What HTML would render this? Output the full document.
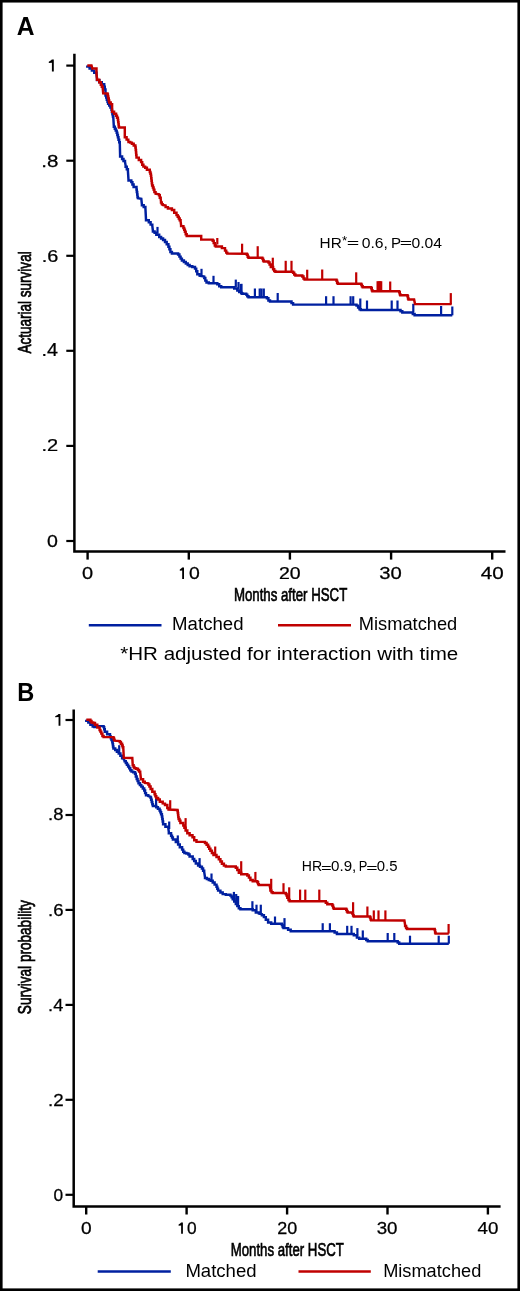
<!DOCTYPE html>
<html><head><meta charset="utf-8"><style>
html,body{margin:0;padding:0;background:#fff;}
svg{display:block;will-change:transform;}
text{font-family:'Liberation Sans', sans-serif;fill:#000;}
</style></head><body>
<svg width="520" height="1291" viewBox="0 0 520 1291">
<rect x="1.3" y="1.25" width="517.4" height="1288.45" fill="#fff" stroke="#000" stroke-width="2.6"/>

<text transform="translate(16.68,34.60) scale(0.9822,1)" font-size="25.07" font-weight="bold">A</text>
<g stroke="#000" stroke-width="2.5" fill="none" stroke-linecap="butt"><polyline points="74.4,53.8 74.4,551.6 505.5,551.6" stroke-linejoin="miter"/><line x1="66.3" y1="65.6" x2="74.4" y2="65.6" stroke-width="2.2"/><line x1="66.3" y1="160.7" x2="74.4" y2="160.7" stroke-width="2.2"/><line x1="66.3" y1="255.8" x2="74.4" y2="255.8" stroke-width="2.2"/><line x1="66.3" y1="350.8" x2="74.4" y2="350.8" stroke-width="2.2"/><line x1="66.3" y1="445.9" x2="74.4" y2="445.9" stroke-width="2.2"/><line x1="66.3" y1="541.0" x2="74.4" y2="541.0" stroke-width="2.2"/><line x1="87.6" y1="551.6" x2="87.6" y2="559.6" stroke-width="2.4"/><line x1="188.8" y1="551.6" x2="188.8" y2="559.6" stroke-width="2.4"/><line x1="289.9" y1="551.6" x2="289.9" y2="559.6" stroke-width="2.4"/><line x1="391.1" y1="551.6" x2="391.1" y2="559.6" stroke-width="2.4"/><line x1="492.2" y1="551.6" x2="492.2" y2="559.6" stroke-width="2.4"/></g>
<text transform="translate(41.20,166.78) scale(1.2145,1)" font-size="16.93" stroke="#000" stroke-width="0.25">.8</text>
<text transform="translate(41.67,261.57) scale(1.2240,1)" font-size="16.21" stroke="#000" stroke-width="0.25">.6</text>
<text transform="translate(41.46,356.38) scale(1.1305,1)" font-size="17.46" stroke="#000" stroke-width="0.25">.4</text>
<text transform="translate(41.44,451.38) scale(1.1625,1)" font-size="17.21" stroke="#000" stroke-width="0.25">.2</text>
<text transform="translate(47.06,546.58) scale(1.1577,1)" font-size="16.93" stroke="#000" stroke-width="0.25">0</text>
<path d="M53.80,59.40 L53.80,71.60 L51.91,71.60 L51.91,62.69 L48.80,62.94 L48.80,61.72 L51.18,60.25 L51.79,59.40Z" fill="#000"/>
<path d="M184.00,567.40 L184.00,579.10 L182.19,579.10 L182.19,570.56 L179.80,570.79 L179.80,569.62 L181.48,568.22 L182.07,567.40Z" fill="#000"/>
<text transform="translate(189.07,578.98) scale(1.1745,1)" font-size="16.50" stroke="#000" stroke-width="0.25">0</text>
<text transform="translate(82.05,578.98) scale(1.2115,1)" font-size="16.50" stroke="#000" stroke-width="0.25">0</text>
<text transform="translate(278.97,578.98) scale(1.1826,1)" font-size="16.50" stroke="#000" stroke-width="0.25">20</text>
<text transform="translate(379.34,578.98) scale(1.2293,1)" font-size="16.50" stroke="#000" stroke-width="0.25">30</text>
<text transform="translate(480.84,578.98) scale(1.2519,1)" font-size="16.50" stroke="#000" stroke-width="0.25">40</text>
<text transform="translate(233.88,601.45) scale(0.6984,1)" font-size="18.99" stroke="#000" stroke-width="0.7">Months after HSCT</text>
<text transform="translate(31.05,353.61) rotate(-90) scale(0.7496,1)" font-size="18.07" stroke="#000" stroke-width="0.7">Actuarial survival</text>
<text transform="translate(319.57,247.50) scale(1.0599,1)" font-size="14.49">HR</text>
<text transform="translate(342.03,245.37) scale(1.0682,1)" font-size="12.57">*</text>
<text transform="translate(346.63,247.43) scale(1.7155,1)" font-size="12.50">=</text>
<text transform="translate(361.67,247.60) scale(1.1224,1)" font-size="14.00">0.6,</text>
<text transform="translate(391.09,247.60) scale(1.0660,1)" font-size="14.20">P</text>
<text transform="translate(399.84,247.22) scale(1.6990,1)" font-size="12.50">=</text>
<text transform="translate(411.47,247.60) scale(1.1200,1)" font-size="14.00">0.04</text>
<g fill="none" stroke-width="2.45" stroke-linejoin="miter">
<polyline points="87.3,65.4 87.3,66.5 89.6,66.5 89.6,68.5 91.9,68.5 91.9,70.6 94.2,70.6 94.2,72.7 96.5,72.7 96.5,73.8 97.0,79.0 97.0,80.1 99.4,80.1 99.4,82.2 101.8,82.2 101.8,84.3 104.2,84.3 104.2,85.4 104.2,86.8 104.8,86.8 104.8,89.4 105.5,89.4 105.5,90.8 105.5,94.6 105.5,95.6 106.2,95.6 106.2,97.6 106.8,97.6 106.8,99.7 107.5,99.7 107.5,101.7 108.1,101.7 108.1,102.7 108.1,103.7 109.2,103.7 109.2,105.6 110.4,105.6 110.4,107.5 111.5,107.5 111.5,108.5 111.5,109.7 112.0,109.7 112.0,112.0 112.4,112.0 112.4,114.2 112.9,114.2 112.9,116.5 113.3,116.5 113.3,117.7 113.8,125.8 113.8,126.8 114.8,126.8 114.8,128.7 115.7,128.7 115.7,130.6 116.7,130.6 116.7,131.5 116.7,132.7 117.3,132.7 117.3,135.0 117.9,135.0 117.9,137.3 118.5,137.3 118.5,138.4 118.5,139.7 119.2,139.7 119.2,142.2 119.8,142.2 119.8,143.5 120.1,155.0 120.1,156.4 122.1,156.4 122.1,157.9 122.1,158.9 123.5,158.9 123.5,160.9 125.0,160.9 125.0,161.9 125.6,165.4 125.6,166.7 126.8,166.7 126.8,169.3 127.9,169.3 127.9,170.6 128.5,179.8 128.5,180.4 131.3,180.4 131.3,180.9 131.3,182.1 132.4,182.1 132.4,184.4 133.6,184.4 133.6,185.6 133.6,187.0 136.5,187.0 136.5,188.4 136.5,189.6 136.8,189.6 136.8,192.0 137.2,192.0 137.2,194.5 137.5,194.5 137.5,196.9 137.9,196.9 137.9,198.1 141.3,198.7 141.9,204.4 141.9,205.3 143.7,205.3 143.7,207.0 145.4,207.0 145.4,207.9 146.0,219.4 146.0,220.2 148.8,220.2 148.8,221.1 148.8,222.3 150.6,222.3 150.6,224.6 152.3,224.6 152.3,225.8 152.9,230.9 152.9,231.5 154.6,231.5 154.6,232.7 156.3,232.7 156.3,233.3 156.3,234.7 159.2,234.7 159.2,236.1 159.2,236.9 161.1,236.9 161.1,238.4 163.1,238.4 163.1,239.9 165.0,239.9 165.0,240.7 165.0,241.9 166.7,241.9 166.7,244.2 168.4,244.2 168.4,245.4 168.4,246.7 169.4,246.7 169.4,249.2 170.4,249.2 170.4,250.4 170.4,251.9 171.9,251.9 171.9,253.5 178.1,253.5 178.1,254.5 179.4,254.5 179.4,256.6 180.6,256.6 180.6,258.6 181.9,258.6 181.9,259.6 181.9,260.4 183.9,260.4 183.9,261.9 185.8,261.9 185.8,262.7 185.8,263.5 187.7,263.5 187.7,265.0 189.6,265.0 189.6,265.8 189.6,266.2 192.3,266.2 192.3,266.9 195.0,266.9 195.0,267.3 195.0,268.6 196.2,268.6 196.2,271.3 197.3,271.3 197.3,272.7 197.3,274.2 199.6,274.2 199.6,275.8 204.2,276.5 204.2,277.9 205.3,277.9 205.3,280.6 206.5,280.6 206.5,281.9 206.5,282.5 208.8,282.5 208.8,283.2 217.3,283.2 217.3,284.2 219.2,284.2 219.2,286.3 221.2,286.3 221.2,287.3 234.2,287.3 234.2,288.5 237.3,288.5 237.3,289.6 237.3,290.4 239.2,290.4 239.2,291.9 241.2,291.9 241.2,292.7 241.2,293.2 242.3,293.2 242.3,293.8 246.2,293.8 246.2,294.6 247.3,294.6 247.3,296.3 248.5,296.3 248.5,297.2 266.9,297.2 266.9,298.3 268.4,298.3 268.4,300.4 270.0,300.4 270.0,301.5 291.5,301.5 291.5,303.1 293.1,303.1 293.1,304.6 356.5,304.6 356.5,305.6 358.1,305.6 358.1,306.6 358.1,307.5 359.5,307.5 359.5,309.2 360.8,309.2 360.8,310.0 400.5,310.0 400.5,311.2 402.3,311.2 402.3,312.5 412.8,312.5 412.8,313.9 414.6,313.9 414.6,315.3 452.3,315.3" stroke="#0020a0"/>
<g stroke="#0020a0" stroke-width="2.2"><line x1="157.5" y1="226.9" x2="157.5" y2="233.8"/><line x1="201.5" y1="268.8" x2="201.5" y2="275.8"/><line x1="213.5" y1="275.8" x2="213.5" y2="283.2"/><line x1="235.8" y1="279.6" x2="235.8" y2="287.3"/><line x1="238.5" y1="282" x2="238.5" y2="289.3"/><line x1="240.8" y1="284" x2="240.8" y2="292.3"/><line x1="241.5" y1="283.8" x2="241.5" y2="293"/><line x1="254.9" y1="288.5" x2="254.9" y2="297.2"/><line x1="259.7" y1="288.5" x2="259.7" y2="297.2"/><line x1="261.5" y1="288.5" x2="261.5" y2="297.2"/><line x1="263.8" y1="288.5" x2="263.8" y2="297.2"/><line x1="277.7" y1="293" x2="277.7" y2="301.5"/><line x1="326.1" y1="296.2" x2="326.1" y2="304.6"/><line x1="333.5" y1="296.2" x2="333.5" y2="304.6"/><line x1="350.6" y1="296.2" x2="350.6" y2="304.6"/><line x1="353.2" y1="296.2" x2="353.2" y2="304.6"/><line x1="360.3" y1="298.5" x2="360.3" y2="308"/><line x1="367" y1="300.5" x2="367" y2="310"/><line x1="391.7" y1="300.5" x2="391.7" y2="310"/><line x1="397.5" y1="300.5" x2="397.5" y2="310"/><line x1="413.3" y1="303.8" x2="413.3" y2="312.5"/><line x1="441.1" y1="306" x2="441.1" y2="315.3"/><line x1="452.3" y1="306.5" x2="452.3" y2="315.3"/></g>
<polyline points="87.3,65.4 91.5,65.4 92.3,68.5 96.5,68.5 96.5,73.8 97.0,78.5 97.0,79.7 99.2,79.7 99.2,80.8 99.2,82.3 100.8,82.3 100.8,83.8 100.8,84.8 101.8,84.8 101.8,86.7 102.7,86.7 102.7,87.7 103.2,93.3 107.5,93.5 107.5,94.5 107.9,94.5 107.9,96.5 108.3,96.5 108.3,98.5 108.8,98.5 108.8,100.5 109.2,100.5 109.2,101.5 109.2,102.4 110.7,102.4 110.7,104.1 112.1,104.1 112.1,105.0 112.1,110.8 112.1,111.8 114.1,111.8 114.1,113.8 116.1,113.8 116.1,114.8 116.1,115.8 117.0,115.8 117.0,117.8 117.9,117.8 117.9,118.8 117.9,119.9 118.2,119.9 118.2,122.1 118.5,122.1 118.5,124.2 118.7,124.2 118.7,126.4 119.0,126.4 119.0,127.5 124.8,127.5 124.8,136.1 124.8,137.2 126.6,137.2 126.6,139.6 128.3,139.6 128.3,140.7 128.5,141.7 128.5,142.0 130.2,142.0 130.2,142.6 131.9,142.6 131.9,142.9 131.9,143.8 133.7,143.8 133.7,145.4 135.4,145.4 135.4,146.3 135.4,147.5 135.7,147.5 135.7,150.0 136.0,150.0 136.0,152.4 136.2,152.4 136.2,154.9 136.5,154.9 136.5,156.1 136.5,157.6 138.8,157.6 138.8,159.0 138.8,159.9 141.1,159.9 141.1,160.8 141.1,162.1 142.2,162.1 142.2,164.7 143.4,164.7 143.4,166.0 143.4,166.6 145.2,166.6 145.2,167.7 146.9,167.7 146.9,168.3 146.9,169.7 149.8,169.7 149.8,171.1 149.8,172.0 150.4,172.0 150.4,173.7 150.9,173.7 150.9,174.6 150.9,175.8 151.2,175.8 151.2,178.3 151.5,178.3 151.5,180.7 151.8,180.7 151.8,183.2 152.1,183.2 152.1,184.4 152.1,185.4 152.9,185.4 152.9,187.5 153.6,187.5 153.6,189.6 154.4,189.6 154.4,190.7 154.4,192.1 155.6,192.1 155.6,193.6 159.0,194.2 159.0,195.3 159.8,195.3 159.8,197.7 160.7,197.7 160.7,198.8 161.0,201.5 161.0,202.4 161.8,202.4 161.8,204.1 162.7,204.1 162.7,205.0 165.6,205.6 165.6,207.1 167.9,207.1 167.9,208.5 171.9,208.5 171.9,209.9 174.2,209.9 174.2,211.3 174.2,212.8 176.5,212.8 176.5,214.2 176.5,215.1 177.7,215.1 177.7,216.8 178.8,216.8 178.8,217.7 178.8,218.5 179.7,218.5 179.7,220.2 180.6,220.2 180.6,221.1 181.1,225.2 181.1,226.1 183.4,226.1 183.4,226.9 183.4,227.9 184.2,227.9 184.2,229.8 184.9,229.8 184.9,231.7 185.7,231.7 185.7,232.7 185.7,234.3 186.7,234.3 186.7,235.9 201.2,235.9 201.2,239.6 212.7,239.6 212.7,240.8 213.7,240.8 213.7,243.1 214.8,243.1 214.8,245.4 215.8,245.4 215.8,246.5 221.9,246.5 221.9,248.1 225.0,248.1 225.0,249.6 225.0,250.6 226.2,250.6 226.2,252.6 227.3,252.6 227.3,253.6 246.9,253.7 246.9,254.7 247.7,254.7 247.7,256.7 248.5,256.7 248.5,257.7 262.3,257.7 262.3,258.6 263.1,258.6 263.1,260.5 263.8,260.5 263.8,261.5 268.5,261.5 268.5,262.5 269.6,262.5 269.6,264.4 270.8,264.4 270.8,265.4 270.8,266.9 273.1,266.9 273.1,268.5 273.1,269.3 274.2,269.3 274.2,271.0 275.4,271.0 275.4,271.8 293.1,271.8 293.1,272.7 294.2,272.7 294.2,274.5 295.4,274.5 295.4,275.4 302.3,275.4 302.3,276.4 303.5,276.4 303.5,278.5 304.6,278.5 304.6,279.5 336.5,279.6 336.5,280.7 337.1,280.7 337.1,282.8 337.8,282.8 337.8,283.8 361.2,283.8 361.2,284.6 361.9,284.6 361.9,286.3 362.7,286.3 362.7,287.2 371.2,287.2 371.2,288.2 371.8,288.2 371.8,290.3 372.4,290.3 372.4,291.3 399.2,291.3 399.2,292.3 399.8,292.3 399.8,294.3 400.3,294.3 400.3,295.3 407.5,295.3 407.5,296.3 408.0,296.3 408.0,298.4 408.5,298.4 408.5,299.4 414.1,299.4 415.0,304.1 451.7,304.1" stroke="#c00000"/>
<g stroke="#c00000" stroke-width="2.2"><line x1="217.3" y1="238" x2="217.3" y2="244.5"/><line x1="242.1" y1="243.7" x2="242.1" y2="253.7"/><line x1="257.7" y1="246.2" x2="257.7" y2="257.7"/><line x1="272.8" y1="257.7" x2="272.8" y2="266.5"/><line x1="285.7" y1="260.8" x2="285.7" y2="271.8"/><line x1="291.5" y1="260.8" x2="291.5" y2="271.8"/><line x1="307.2" y1="269.7" x2="307.2" y2="279.5"/><line x1="322.2" y1="269.5" x2="322.2" y2="279.6"/><line x1="356.2" y1="272.3" x2="356.2" y2="283.8"/><line x1="377.6" y1="281.2" x2="377.6" y2="291.3"/><line x1="378.8" y1="281.2" x2="378.8" y2="291.3"/><line x1="380" y1="281.2" x2="380" y2="291.3"/><line x1="381.2" y1="281.2" x2="381.2" y2="291.3"/><line x1="390.2" y1="281.5" x2="390.2" y2="291.3"/><line x1="450.8" y1="293.1" x2="450.8" y2="304.1"/></g>
</g>
<line x1="88.8" y1="625.35" x2="161.5" y2="625.35" stroke="#0020a0" stroke-width="2.5"/>
<line x1="278" y1="625.35" x2="351" y2="625.35" stroke="#c00000" stroke-width="2.5"/>
<text transform="translate(172.11,629.60) scale(1.0617,1)" font-size="17.54">Matched</text>
<text transform="translate(358.74,629.60) scale(1.0426,1)" font-size="17.54">Mismatched</text>
<text transform="translate(120.29,660.00) scale(1.1632,1)" font-size="17.68">*HR adjusted for interaction with time</text>
<text transform="translate(17.17,700.80) scale(0.9415,1)" font-size="25.07" font-weight="bold">B</text>
<g stroke="#000" stroke-width="2.5" fill="none" stroke-linecap="butt"><polyline points="73.7,709.4 73.7,1206.5 500.6,1206.5" stroke-linejoin="miter"/><line x1="65.5" y1="720.0" x2="73.7" y2="720.0" stroke-width="2.2"/><line x1="65.5" y1="815.0" x2="73.7" y2="815.0" stroke-width="2.2"/><line x1="65.5" y1="909.9" x2="73.7" y2="909.9" stroke-width="2.2"/><line x1="65.5" y1="1004.9" x2="73.7" y2="1004.9" stroke-width="2.2"/><line x1="65.5" y1="1099.8" x2="73.7" y2="1099.8" stroke-width="2.2"/><line x1="65.5" y1="1194.8" x2="73.7" y2="1194.8" stroke-width="2.2"/><line x1="86.2" y1="1206.5" x2="86.2" y2="1214.5" stroke-width="2.4"/><line x1="186.6" y1="1206.5" x2="186.6" y2="1214.5" stroke-width="2.4"/><line x1="287.1" y1="1206.5" x2="287.1" y2="1214.5" stroke-width="2.4"/><line x1="387.5" y1="1206.5" x2="387.5" y2="1214.5" stroke-width="2.4"/><line x1="487.9" y1="1206.5" x2="487.9" y2="1214.5" stroke-width="2.4"/></g>
<text transform="translate(48.09,820.48) scale(1.1792,1)" font-size="15.64" stroke="#000" stroke-width="0.25">.8</text>
<text transform="translate(48.07,916.08) scale(1.1465,1)" font-size="16.21" stroke="#000" stroke-width="0.25">.6</text>
<text transform="translate(48.10,1010.67) scale(1.1072,1)" font-size="16.45" stroke="#000" stroke-width="0.25">.4</text>
<text transform="translate(48.06,1105.78) scale(1.1447,1)" font-size="16.36" stroke="#000" stroke-width="0.25">.2</text>
<text transform="translate(53.55,1200.78) scale(1.1066,1)" font-size="15.64" stroke="#000" stroke-width="0.25">0</text>
<path d="M60.40,713.90 L60.40,725.80 L58.56,725.80 L58.56,717.11 L55.20,717.35 L55.20,716.16 L57.84,714.73 L58.44,713.90Z" fill="#000"/>
<path d="M182.90,1222.40 L182.90,1233.80 L181.13,1233.80 L181.13,1225.48 L178.60,1225.71 L178.60,1224.57 L180.45,1223.20 L181.02,1222.40Z" fill="#000"/>
<text transform="translate(186.94,1233.67) scale(1.0781,1)" font-size="16.07" stroke="#000" stroke-width="0.25">0</text>
<text transform="translate(80.88,1233.67) scale(1.1921,1)" font-size="16.07" stroke="#000" stroke-width="0.25">0</text>
<text transform="translate(277.34,1233.67) scale(1.1176,1)" font-size="16.07" stroke="#000" stroke-width="0.25">20</text>
<text transform="translate(376.70,1233.67) scale(1.1664,1)" font-size="16.07" stroke="#000" stroke-width="0.25">30</text>
<text transform="translate(477.58,1233.67) scale(1.1675,1)" font-size="16.07" stroke="#000" stroke-width="0.25">40</text>
<text transform="translate(230.69,1256.35) scale(0.7073,1)" font-size="18.70" stroke="#000" stroke-width="0.7">Months after HSCT</text>
<text transform="translate(30.85,1014.14) rotate(-90) scale(0.7635,1)" font-size="17.79" stroke="#000" stroke-width="0.7">Survival probability</text>
<text transform="translate(301.77,871.30) scale(0.9517,1)" font-size="14.78">HR</text>
<text transform="translate(320.98,871.73) scale(1.4680,1)" font-size="12.50">=</text>
<text transform="translate(331.09,871.30) scale(1.0383,1)" font-size="14.57">0.9,</text>
<text transform="translate(358.77,871.30) scale(0.8725,1)" font-size="14.78">P</text>
<text transform="translate(366.33,871.73) scale(1.5505,1)" font-size="12.50">=</text>
<text transform="translate(376.70,871.30) scale(1.0268,1)" font-size="14.57">0.5</text>
<g fill="none" stroke-width="2.45" stroke-linejoin="miter">
<polyline points="86.3,719.8 86.3,720.7 88.3,720.7 88.3,722.4 90.4,722.4 90.4,723.3 90.4,724.7 92.7,724.7 92.7,726.1 92.7,726.4 94.4,726.4 94.4,727.0 96.1,727.0 96.1,727.3 96.1,726.7 99.0,726.7 99.0,726.1 103.6,726.1 103.6,727.1 104.2,727.1 104.2,729.2 104.8,729.2 104.8,730.2 104.8,731.7 107.1,731.7 107.1,733.1 107.1,734.2 110.0,734.2 110.0,735.4 110.0,736.4 110.8,736.4 110.8,738.2 111.5,738.2 111.5,740.1 112.3,740.1 112.3,741.1 112.3,742.2 112.7,742.2 112.7,744.3 113.0,744.3 113.0,746.4 113.4,746.4 113.4,747.5 113.4,748.4 115.2,748.4 115.2,750.0 116.9,750.0 116.9,750.9 116.9,751.8 118.7,751.8 118.7,753.5 120.4,753.5 120.4,754.4 120.4,755.7 122.1,755.7 122.1,758.3 123.8,758.3 123.8,759.6 124.6,760.4 124.6,761.2 125.8,761.2 125.8,763.0 126.9,763.0 126.9,763.8 126.9,764.7 128.1,764.7 128.1,766.4 129.2,766.4 129.2,767.3 129.2,768.3 130.3,768.3 130.3,770.3 131.5,770.3 131.5,771.3 131.5,771.6 133.2,771.6 133.2,772.2 135.0,772.2 135.0,772.5 135.0,773.8 135.8,773.8 135.8,776.4 136.7,776.4 136.7,777.7 136.7,778.9 137.6,778.9 137.6,781.1 138.5,781.1 138.5,782.3 138.5,783.2 139.9,783.2 139.9,784.9 141.3,784.9 141.3,785.8 141.3,786.6 142.8,786.6 142.8,788.4 144.2,788.4 144.2,789.2 144.2,790.5 145.1,790.5 145.1,793.1 146.0,793.1 146.0,794.4 146.0,795.2 148.3,795.2 148.3,796.1 150.6,796.7 150.6,797.7 151.1,797.7 151.1,799.7 151.7,799.7 151.7,800.7 151.7,801.9 152.3,801.9 152.3,804.2 152.9,804.2 152.9,805.4 152.9,806.0 156.2,806.0 156.2,806.5 156.2,807.2 157.9,807.2 157.9,808.7 159.6,808.7 159.6,809.4 159.6,810.4 160.4,810.4 160.4,812.3 161.1,812.3 161.1,814.2 161.9,814.2 161.9,815.2 161.9,816.5 162.3,816.5 162.3,819.0 162.7,819.0 162.7,821.5 163.1,821.5 163.1,822.7 163.1,824.2 165.4,824.2 165.4,825.6 165.4,826.8 168.3,826.8 168.3,827.9 168.8,831.9 168.8,833.3 171.1,833.3 171.1,834.8 171.1,835.7 172.0,835.7 172.0,837.4 172.9,837.4 172.9,838.3 172.9,839.5 175.8,839.5 175.8,840.6 175.8,842.0 178.1,842.0 178.1,843.4 178.1,844.5 179.8,844.5 179.8,845.7 179.8,847.2 182.1,847.2 182.1,848.6 182.1,849.6 183.2,849.6 183.2,851.7 184.4,851.7 184.4,852.7 184.4,853.0 186.4,853.0 186.4,853.5 188.4,853.5 188.4,853.8 188.4,854.4 189.6,854.4 189.6,855.0 189.6,856.5 192.7,856.5 192.7,858.1 192.7,859.0 194.2,859.0 194.2,860.9 195.8,860.9 195.8,861.9 195.8,863.5 198.1,863.5 198.1,865.0 198.1,865.6 200.0,865.6 200.0,866.7 201.9,866.7 201.9,867.3 201.9,868.4 203.1,868.4 203.1,870.8 204.2,870.8 204.2,871.9 205.0,877.3 205.0,877.9 206.9,877.9 206.9,879.0 208.8,879.0 208.8,879.6 208.8,880.0 210.8,880.0 210.8,880.8 212.7,880.8 212.7,881.2 212.7,882.4 214.6,882.4 214.6,884.6 216.5,884.6 216.5,885.8 216.5,886.8 217.3,886.8 217.3,888.7 218.1,888.7 218.1,889.6 218.1,890.6 220.4,890.6 220.4,892.5 222.7,892.5 222.7,893.5 222.7,894.1 225.8,894.1 225.8,894.7 230.4,894.7 230.4,895.6 231.6,895.6 231.6,897.2 232.7,897.2 232.7,898.1 232.7,899.2 234.2,899.2 234.2,901.5 235.8,901.5 235.8,902.7 235.8,903.9 237.3,903.9 237.3,906.1 238.8,906.1 238.8,907.3 238.8,908.2 240.4,908.2 240.4,909.2 252.7,909.2 252.7,910.2 255.8,910.2 255.8,911.2 255.8,912.4 258.8,912.4 258.8,913.5 261.9,914.2 261.9,915.2 263.9,915.2 263.9,917.1 265.8,917.1 265.8,918.1 265.8,919.7 268.1,919.7 268.1,921.2 268.1,922.5 271.2,922.5 271.2,923.8 281.9,923.8 281.9,924.9 282.7,924.9 282.7,927.0 283.5,927.0 283.5,928.1 288.1,928.1 288.1,929.7 290.7,929.7 290.7,931.2 334.6,931.2 334.6,932.5 336.9,932.5 336.9,933.9 353.8,933.9 353.8,935.2 356.9,935.2 356.9,936.5 356.9,937.6 359.2,937.6 359.2,938.8 366.2,938.8 366.2,940.0 367.7,940.0 367.7,941.2 397.7,941.2 397.7,942.5 399.2,942.5 399.2,943.7 448.8,943.7" stroke="#0020a0"/>
<g stroke="#0020a0" stroke-width="2.2"><line x1="119.2" y1="745.2" x2="119.2" y2="753"/><line x1="156.1" y1="798.4" x2="156.1" y2="806"/><line x1="169.2" y1="821.5" x2="169.2" y2="829"/><line x1="177.8" y1="835.4" x2="177.8" y2="843"/><line x1="199.6" y1="858.1" x2="199.6" y2="866"/><line x1="211.5" y1="873.5" x2="211.5" y2="881"/><line x1="233.9" y1="891.9" x2="233.9" y2="900"/><line x1="236.2" y1="894" x2="236.2" y2="904"/><line x1="238.1" y1="896" x2="238.1" y2="906.5"/><line x1="252.4" y1="901.2" x2="252.4" y2="909.2"/><line x1="256.5" y1="904.7" x2="256.5" y2="912"/><line x1="260.8" y1="904.7" x2="260.8" y2="913.5"/><line x1="275" y1="916.5" x2="275" y2="923.8"/><line x1="284.5" y1="918.1" x2="284.5" y2="928"/><line x1="322.7" y1="923.2" x2="322.7" y2="931.2"/><line x1="329.9" y1="923.2" x2="329.9" y2="931.2"/><line x1="347.2" y1="925.8" x2="347.2" y2="933.9"/><line x1="351.5" y1="925.8" x2="351.5" y2="933.9"/><line x1="357.4" y1="928.1" x2="357.4" y2="936.5"/><line x1="362.8" y1="930.4" x2="362.8" y2="938.8"/><line x1="387.7" y1="933" x2="387.7" y2="941.2"/><line x1="394.3" y1="933" x2="394.3" y2="941.2"/><line x1="410" y1="935.7" x2="410" y2="943.7"/><line x1="438.7" y1="935.7" x2="438.7" y2="943.7"/><line x1="448.8" y1="935.7" x2="448.8" y2="943.7"/></g>
<polyline points="86.3,719.8 90.4,719.8 90.4,721.0 91.5,721.0 91.5,722.1 91.5,722.4 93.2,722.4 93.2,723.0 95.0,723.0 95.0,723.3 95.0,724.7 97.3,724.7 97.3,726.1 97.3,727.5 99.6,727.5 99.6,729.0 99.6,729.9 100.4,729.9 100.4,731.6 101.3,731.6 101.3,732.5 101.3,733.6 102.4,733.6 102.4,736.0 103.6,736.0 103.6,737.1 113.4,737.1 113.4,738.0 114.0,738.0 114.0,739.7 114.6,739.7 114.6,740.6 119.8,741.1 119.8,742.0 120.9,742.0 120.9,743.7 122.1,743.7 122.1,744.6 122.1,745.5 122.7,745.5 122.7,747.2 123.3,747.2 123.3,748.1 123.8,757.9 132.3,758.0 132.7,764.4 132.7,765.3 133.6,765.3 133.6,767.0 134.4,767.0 134.4,767.9 134.4,768.2 136.2,768.2 136.2,768.7 137.9,768.7 137.9,769.0 137.9,769.9 139.1,769.9 139.1,771.6 140.2,771.6 140.2,772.5 140.8,777.7 140.8,779.2 143.1,779.2 143.1,780.6 143.1,781.8 144.8,781.8 144.8,782.9 148.3,783.4 148.3,784.4 149.4,784.4 149.4,786.5 150.6,786.5 150.6,787.5 150.6,789.0 152.3,789.0 152.3,790.4 152.3,791.8 154.6,791.8 154.6,793.3 154.6,794.3 155.4,794.3 155.4,796.3 156.3,796.3 156.3,797.3 156.3,798.0 158.1,798.0 158.1,799.5 159.8,799.5 159.8,800.2 159.8,801.8 162.7,801.8 162.7,803.4 165.0,803.6 165.0,805.0 167.3,805.0 167.3,806.5 167.3,808.0 168.5,808.0 168.5,809.5 177.5,810.0 177.5,811.0 177.8,811.0 177.8,813.0 178.1,813.0 178.1,815.1 178.3,815.1 178.3,817.1 178.6,817.1 178.6,818.1 178.6,819.0 179.5,819.0 179.5,820.7 180.4,820.7 180.4,821.5 180.4,823.0 183.3,823.0 183.3,824.4 183.3,825.5 184.4,825.5 184.4,827.8 185.6,827.8 185.6,829.0 185.6,830.5 187.3,830.5 187.3,831.9 187.3,833.3 189.6,833.3 189.6,834.8 189.6,835.3 192.5,835.3 192.5,835.9 192.5,837.3 194.2,837.3 194.2,838.8 194.2,840.3 196.5,840.3 196.5,841.8 205.0,841.9 205.0,842.9 206.6,842.9 206.6,844.8 208.1,844.8 208.1,845.8 208.1,846.8 209.2,846.8 209.2,848.7 210.4,848.7 210.4,849.6 210.4,850.8 211.9,850.8 211.9,853.0 213.5,853.0 213.5,854.2 213.5,855.0 216.5,855.0 216.5,855.8 216.5,857.0 218.8,857.0 218.8,858.1 218.8,859.2 220.4,859.2 220.4,861.5 221.9,861.5 221.9,862.7 221.9,863.7 223.9,863.7 223.9,865.6 225.8,865.6 225.8,866.5 235.8,866.5 235.8,867.7 237.3,867.7 237.3,870.0 238.8,870.0 238.8,871.2 238.8,872.7 241.2,872.7 241.2,874.2 247.3,874.2 247.3,875.4 248.9,875.4 248.9,877.6 250.4,877.6 250.4,878.8 250.4,880.0 252.7,880.0 252.7,881.2 257.3,881.2 257.3,882.2 258.1,882.2 258.1,884.1 258.8,884.1 258.8,885.0 269.6,885.0 270.4,889.6 270.4,890.5 271.5,890.5 271.5,892.2 272.7,892.2 272.7,893.0 285.8,893.0 285.8,893.9 286.6,893.9 286.6,895.6 287.3,895.6 287.3,896.5 287.3,897.7 288.5,897.7 288.5,900.0 289.6,900.0 289.6,901.2 325.8,901.2 325.8,902.7 327.3,902.7 327.3,904.2 332.3,904.2 332.3,905.4 333.1,905.4 333.1,907.6 333.8,907.6 333.8,908.8 346.2,908.8 346.2,909.7 346.9,909.7 346.9,911.5 347.7,911.5 347.7,912.4 352.3,912.4 352.3,913.4 353.1,913.4 353.1,915.5 353.8,915.5 353.8,916.5 370.0,916.5 370.0,917.5 370.6,917.5 370.6,919.4 371.2,919.4 371.2,920.4 404.4,920.5 405.1,924.9 405.1,925.9 406.1,925.9 406.1,927.9 407.1,927.9 407.1,928.9 434.7,928.9 434.7,930.1 435.1,930.1 435.1,932.4 435.6,932.4 435.6,933.6 448.8,933.6" stroke="#c00000"/>
<g stroke="#c00000" stroke-width="2.2"><line x1="170.2" y1="800.2" x2="170.2" y2="809.5"/><line x1="185.6" y1="818.1" x2="185.6" y2="829"/><line x1="215.2" y1="846.5" x2="215.2" y2="855.8"/><line x1="241.2" y1="861.2" x2="241.2" y2="874.2"/><line x1="255.4" y1="871.9" x2="255.4" y2="881.2"/><line x1="271.2" y1="878.8" x2="271.2" y2="889"/><line x1="283.5" y1="883.2" x2="283.5" y2="893"/><line x1="289.2" y1="887.3" x2="289.2" y2="899"/><line x1="300.1" y1="889.6" x2="300.1" y2="901.2"/><line x1="305.3" y1="889.6" x2="305.3" y2="901.2"/><line x1="319.3" y1="889.6" x2="319.3" y2="901.2"/><line x1="353.1" y1="902.2" x2="353.1" y2="912.4"/><line x1="367.4" y1="906.5" x2="367.4" y2="916.5"/><line x1="373.8" y1="910.4" x2="373.8" y2="920.4"/><line x1="378.5" y1="910.4" x2="378.5" y2="920.4"/><line x1="385.4" y1="910.4" x2="385.4" y2="920.4"/><line x1="448.6" y1="924" x2="448.6" y2="933.6"/></g>
</g>
<line x1="97.7" y1="1271.5" x2="170.8" y2="1271.5" stroke="#0020a0" stroke-width="2.5"/>
<line x1="298.5" y1="1271.5" x2="370.8" y2="1271.5" stroke="#c00000" stroke-width="2.5"/>
<text transform="translate(185.41,1276.50) scale(1.0414,1)" font-size="17.83">Matched</text>
<text transform="translate(383.14,1276.50) scale(1.0214,1)" font-size="17.83">Mismatched</text>
</svg></body></html>
